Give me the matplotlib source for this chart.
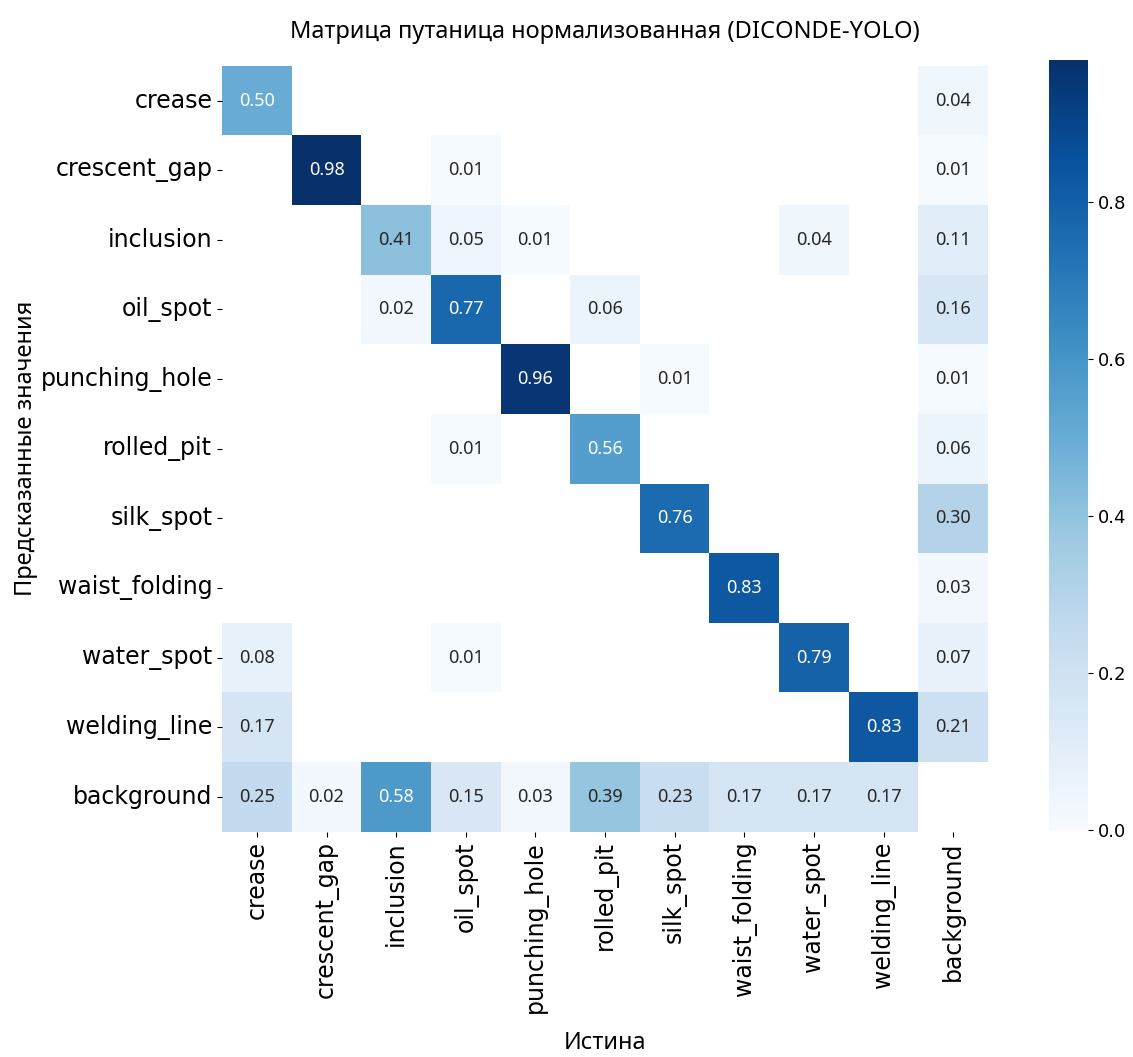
import numpy as np
import matplotlib
matplotlib.use("Agg")
import matplotlib.pyplot as plt
import seaborn as sns


CLASSES = ["crease", "crescent_gap", "inclusion", "oil_spot", "punching_hole",
           "rolled_pit", "silk_spot", "waist_folding", "water_spot",
           "welding_line", "background"]

# rows = predicted, columns = true; 0 means empty cell
ROW_CREASE = [0.50, 0, 0, 0, 0, 0, 0, 0, 0, 0, 0.04]
ROW_CRESCENT_GAP = [0, 0.98, 0, 0.01, 0, 0, 0, 0, 0, 0, 0.01]
ROW_INCLUSION = [0, 0, 0.41, 0.05, 0.01, 0, 0, 0, 0.04, 0, 0.11]
ROW_OIL_SPOT = [0, 0, 0.02, 0.77, 0, 0.06, 0, 0, 0, 0, 0.16]
ROW_PUNCHING_HOLE = [0, 0, 0, 0, 0.96, 0, 0.01, 0, 0, 0, 0.01]
ROW_ROLLED_PIT = [0, 0, 0, 0.01, 0, 0.56, 0, 0, 0, 0, 0.06]
ROW_SILK_SPOT = [0, 0, 0, 0, 0, 0, 0.76, 0, 0, 0, 0.30]
ROW_WAIST_FOLDING = [0, 0, 0, 0, 0, 0, 0, 0.83, 0, 0, 0.03]
ROW_WATER_SPOT = [0.08, 0, 0, 0.01, 0, 0, 0, 0, 0.79, 0, 0.07]
ROW_WELDING_LINE = [0.17, 0, 0, 0, 0, 0, 0, 0, 0, 0.83, 0.21]
ROW_BACKGROUND = [0.25, 0.02, 0.58, 0.15, 0.03, 0.39, 0.23, 0.17, 0.17, 0.17, 0]


def main():
    cm = np.array([ROW_CREASE, ROW_CRESCENT_GAP, ROW_INCLUSION, ROW_OIL_SPOT,
                   ROW_PUNCHING_HOLE, ROW_ROLLED_PIT, ROW_SILK_SPOT,
                   ROW_WAIST_FOLDING, ROW_WATER_SPOT, ROW_WELDING_LINE,
                   ROW_BACKGROUND], dtype=float)
    cm[cm < 0.005] = np.nan

    fig = plt.figure(figsize=(11.33, 10.57), dpi=100)
    ax = fig.add_axes([0.196, 0.213, 0.676, 0.725])
    cax = fig.add_axes([0.926, 0.215, 0.034, 0.728])

    sns.heatmap(cm, ax=ax, cbar_ax=cax, annot=True, fmt=".2f", cmap="Blues",
                vmin=0.0, square=True, xticklabels=CLASSES, yticklabels=CLASSES,
                annot_kws={"size": 13, "family": "Noto Sans"})
    ax.set_facecolor((1, 1, 1))

    ax.set_xticklabels(CLASSES, rotation=90, family="DejaVu Sans", fontsize=17)
    ax.set_yticklabels(CLASSES, rotation=0, family="DejaVu Sans", fontsize=17)

    ax.set_title("Матрица путаница нормализованная (DICONDE-YOLO)",
                 family="Noto Sans", fontsize=17, pad=20)
    ax.set_xlabel("Истина", family="Noto Sans", fontsize=17, labelpad=13)
    ax.set_ylabel("Предсказанные значения", family="Noto Sans", fontsize=17,
                  labelpad=2)

    cax.tick_params(labelsize=13)
    cax.set_yticks([0.0, 0.2, 0.4, 0.6, 0.8])

    fig.savefig("out.png", dpi=100)


if __name__ == "__main__":
    main()
